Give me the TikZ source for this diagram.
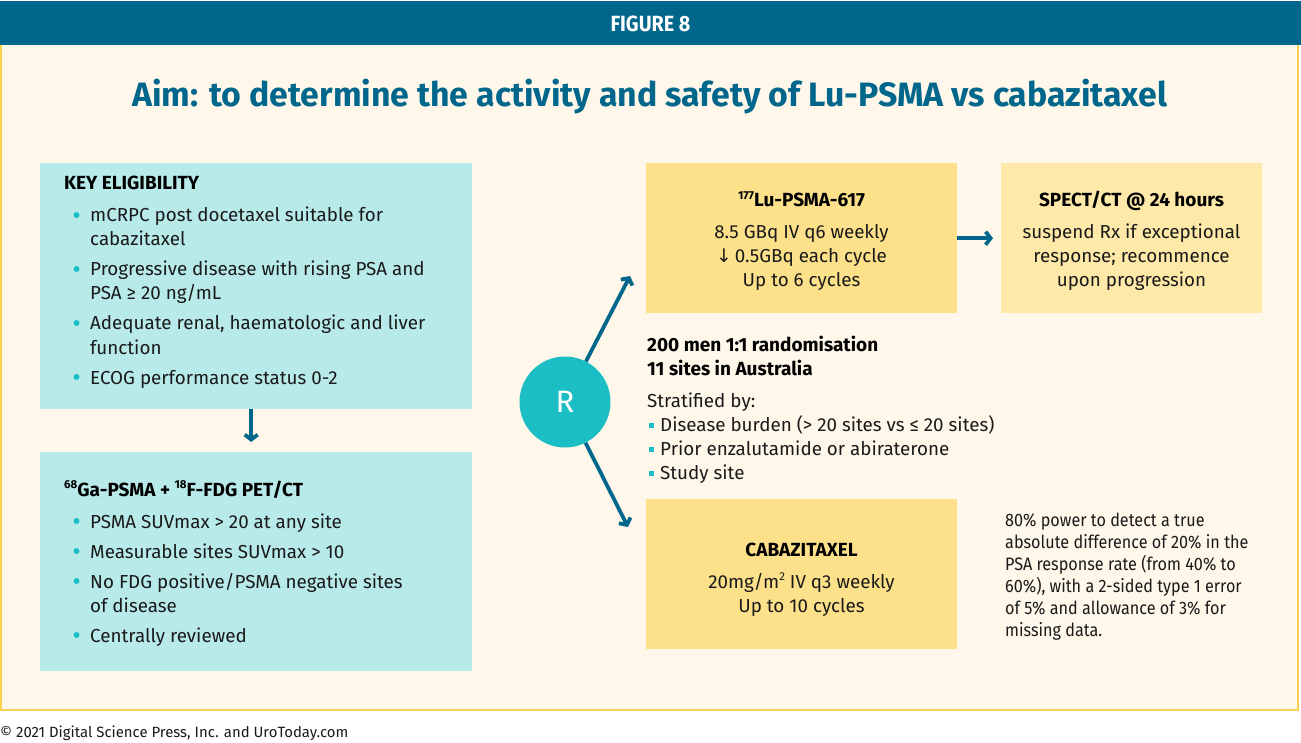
\documentclass[tikz,border=0pt]{standalone}
\usepackage{fontspec}
\setmainfont{Fira Sans}
\newfontfamily\condfont[FakeStretch=0.9]{Fira Sans}
\newfontfamily\dv{DejaVu Sans}
\usetikzlibrary{arrows.meta}
\definecolor{hdr}{HTML}{00668C}
\definecolor{cream}{HTML}{FFF8EA}
\definecolor{ybord}{HTML}{F8D250}
\definecolor{cyanbox}{HTML}{B8EAEA}
\definecolor{ybox}{HTML}{FDE08A}
\definecolor{ybox2}{HTML}{FEE9A8}
\definecolor{rteal}{HTML}{1BBEC4}
\definecolor{txt}{HTML}{1A1A1A}
\newcommand{\sups}[1]{\raisebox{0.42em}{\fontsize{11.5}{12}\selectfont #1}}
\begin{document}
\begin{tikzpicture}[x=1pt,y=-1pt,
  body/.style={font=\fontsize{18.8}{24}\selectfont, text=txt, inner sep=0pt, anchor=base west},
  bodyc/.style={font=\fontsize{18.8}{24}\selectfont, text=txt, inner sep=0pt, anchor=base},
  head/.style={font=\fontsize{19}{24}\selectfont\bfseries, text=black, inner sep=0pt, anchor=base west},
  headc/.style={font=\fontsize{19}{24}\selectfont\bfseries, text=black, inner sep=0pt, anchor=base},
  note/.style={font=\condfont\fontsize{18}{22}\selectfont, text=txt, inner sep=0pt, anchor=base west},
  box/.style={inner sep=0pt, anchor=north west},
  dot/.style={fill=rteal, circle, inner sep=0pt, minimum size=6pt},
  sq/.style={fill=rteal, rectangle, inner sep=0pt, minimum size=5pt},
  arr/.style={draw=hdr, line width=3.8pt, -{Straight Barb[length=5pt,width=13pt]}}]
\useasboundingbox (0,0) rectangle (1301,743);
\fill[white] (0,0) rectangle (1301,743);
% panel
\filldraw[fill=cream, draw=ybord, line width=2pt] (1,44) rectangle (1298,710);
\fill[hdr] (0,1) rectangle (1301,45);
\node[font=\condfont\fontsize{22}{24}\selectfont\bfseries, text=white, inner sep=0pt, anchor=base] (fig) at (650.5,31.5) {FIGURE 8};
\node[font=\fontsize{33.8}{36}\selectfont\bfseries, text=hdr, inner sep=0pt, anchor=base] (title) at (650,107) {Aim: to determine the activity and safety of Lu-PSMA vs cabazitaxel};
% left boxes
\node[box, fill=cyanbox, minimum width=432pt, minimum height=246pt] (elig) at (40,163) {};
\node[box, fill=cyanbox, minimum width=432pt, minimum height=219pt] (pet) at (40,452) {};
\node[head] (e0) at (64,190) {KEY ELIGIBILITY};
\foreach \y [count=\i] in {222,276,330,384}{
  \node[dot] (ed\i) at (76.5,\y-7) {};
}
\node[body] (e1) at (90,222) {mCRPC post docetaxel suitable for};
\node[body] (e1b) at (90,246) {cabazitaxel};
\node[body] (e2) at (90,276) {Progressive disease with rising PSA and};
\node[body] (e2b) at (90,300) {PSA ≥ 20 ng/mL};
\node[body] (e3) at (90,330) {Adequate renal, haematologic and liver};
\node[body] (e3b) at (90,354) {function};
\node[body] (e4) at (90,384) {ECOG performance status 0-2};
\node[head] (p0) at (64,496) {\sups{68}Ga-PSMA + \sups{18}F-FDG PET/CT};
\foreach \y [count=\i] in {528,558,588,642}{
  \node[dot] (pd\i) at (76.5,\y-7) {};
}
\node[body] (p1) at (90,528) {PSMA SUVmax > 20 at any site};
\node[body] (p2) at (90,558) {Measurable sites SUVmax > 10};
\node[body] (p3) at (90,588) {No FDG positive/PSMA negative sites};
\node[body] (p3b) at (90,612) {of disease};
\node[body] (p4) at (90,642) {Centrally reviewed};
\draw[arr] ([xshift=-5pt]elig.south) -- ([xshift=-5pt,yshift=10pt]pet.north);
% R circle
\node[circle, fill=rteal, minimum size=91pt, inner sep=0pt, text=white, font=\fontsize{31}{31}\selectfont] (R) at (565,402) {R};
% right boxes
\node[box, fill=ybox, minimum width=311pt, minimum height=150pt] (lu) at (646,163) {};
\node[box, fill=ybox2, minimum width=261pt, minimum height=150pt] (spect) at (1001,163) {};
\node[box, fill=ybox, minimum width=311pt, minimum height=150pt] (cab) at (646,499) {};
\node[headc] (l0) at (801.5,207) {\sups{177}Lu-PSMA-617};
\node[bodyc] (l1) at (801.5,239) {8.5 GBq IV q6 weekly};
\node[bodyc] (l2) at (801.5,263) {{\dv ↓}\,0.5GBq each cycle};
\node[bodyc] (l3) at (801.5,287) {Up to 6 cycles};
\node[headc] (s0) at (1131.5,207) {SPECT/CT @ 24 hours};
\node[bodyc] (s1) at (1131.5,239) {suspend Rx if exceptional};
\node[bodyc] (s2) at (1131.5,263) {response; recommence};
\node[bodyc] (s3) at (1131.5,287) {upon progression};
\node[headc] (c0) at (801.5,556) {CABAZITAXEL};
\node[bodyc] (c1) at (801.5,588) {20mg/m\sups{2} IV q3 weekly};
\node[bodyc] (c2) at (801.5,612) {Up to 10 cycles};
% middle text
\node[head] (m1) at (647,351) {200 men 1:1 randomisation};
\node[head] (m2) at (647,375) {11 sites in Australia};
\node[body] (m3) at (647,407) {Stratified by:};
\foreach \y [count=\i] in {431,455,479}{
  \node[sq] (ms\i) at (651,\y-6) {};
}
\node[body] (m4) at (660,431) {Disease burden (> 20 sites vs ≤ 20 sites)};
\node[body] (m5) at (660,455) {Prior enzalutamide or abiraterone};
\node[body] (m6) at (660,479) {Study site};
% note
\node[note] (n1) at (1005,526) {80\% power to detect a true};
\node[note] (n2) at (1005,548) {absolute difference of 20\% in the};
\node[note] (n3) at (1005,570) {PSA response rate (from 40\% to};
\node[note] (n4) at (1005,592) {60\%), with a 2-sided type 1 error};
\node[note] (n5) at (1005,614) {of 5\% and allowance of 3\% for};
\node[note] (n6) at (1005,636) {missing data.};
% connectors
\coordinate (luin) at (630,276);
\coordinate (cabin) at (628,527);
\draw[arr] (R) -- (luin);
\draw[arr] (R) -- (cabin);
\draw[arr] (lu.east) -- ([xshift=-8pt]spect.west);
% footer
\node[font=\fontsize{14.9}{16}\selectfont, text=txt, inner sep=0pt, anchor=base west] (foot) at (0,737) {© 2021 Digital Science Press, Inc. and UroToday.com};
\end{tikzpicture}
\end{document}
